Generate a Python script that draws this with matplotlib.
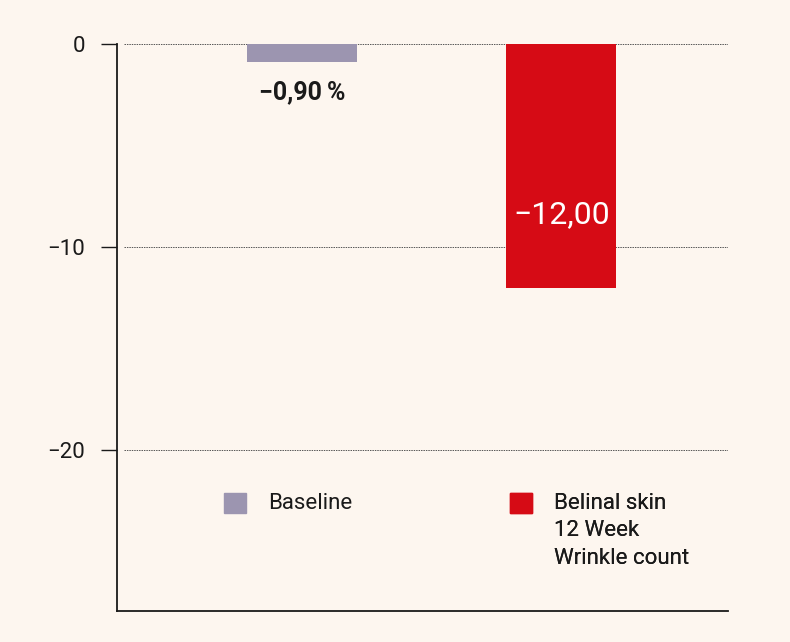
import matplotlib.pyplot as plt
from matplotlib.patches import Patch

# chart data
categories = ['Baseline', 'Belinal skin\n12 Week\nWrinkle count']
values = [-0.90, -12.00]
value_labels = ['\u22120,90\u2009%', '\u221212,00']
colors = ['#9c95b0', '#d60b15']
yticks = [0, -10, -20]
ytick_labels = ['0', '\u221210', '\u221220']

bg = '#fdf6ef'
plt.rcParams['font.family'] = ['Roboto', 'DejaVu Sans']

fig = plt.figure(figsize=(7.9, 6.42), dpi=100, facecolor=bg)
ax = fig.add_axes([0.148, 0.0483, 0.7735, 0.8832])
ax.set_facecolor(bg)

x = [0, 1]
ax.set_xlim(-0.713, 1.642)
ax.set_ylim(-27.9, 0)

# dotted grid lines, starting just right of the spine
for t in yticks:
	ax.axhline(t, xmin=0.011, xmax=1, color='#555555', lw=0.7, ls=(0, (1.5, 1)), zorder=1)

ax.bar(x, values, width=0.424, color=colors, zorder=2)

# value labels
ax.text(x[0], values[0] - 1.45, value_labels[0], ha='center', va='center',
		fontsize=18, fontweight='bold', color='#1a1a1a')
ax.text(x[1], -8.4, value_labels[1], ha='center', va='center',
		fontsize=23, color='white', zorder=3)

ax.set_yticks(yticks)
ax.set_yticklabels(ytick_labels, fontsize=16, color='#1a1a1a')
ax.set_xticks([])
ax.tick_params(axis='y', direction='out', length=11.5, width=1, pad=11.5, color='#1a1a1a')

for s in ['top', 'right']:
	ax.spines[s].set_visible(False)
for s in ['left', 'bottom']:
	ax.spines[s].set_linewidth(1.3)
	ax.spines[s].set_color('#1a1a1a')

# two separate legend entries, handle aligned with the first text line
leg_pos = [(0.175, 0.208), (0.643, 0.208)]
for i, cat in enumerate(categories):
	leg = ax.legend(handles=[Patch(color=colors[i])], labels=[cat],
					loc='upper left', bbox_to_anchor=leg_pos[i], frameon=False,
					fontsize=16, handlelength=1.0, handleheight=1.0,
					handletextpad=1.0, borderpad=0, borderaxespad=0,
					labelcolor='#1a1a1a')
	for t in leg.get_texts():
		t.set_linespacing(1.4)
	for col in leg._legend_handle_box.get_children():
		for item in col.get_children():
			item.align = 'top'
	ax.add_artist(leg)

fig.savefig('out.png', dpi=100, facecolor=bg)
